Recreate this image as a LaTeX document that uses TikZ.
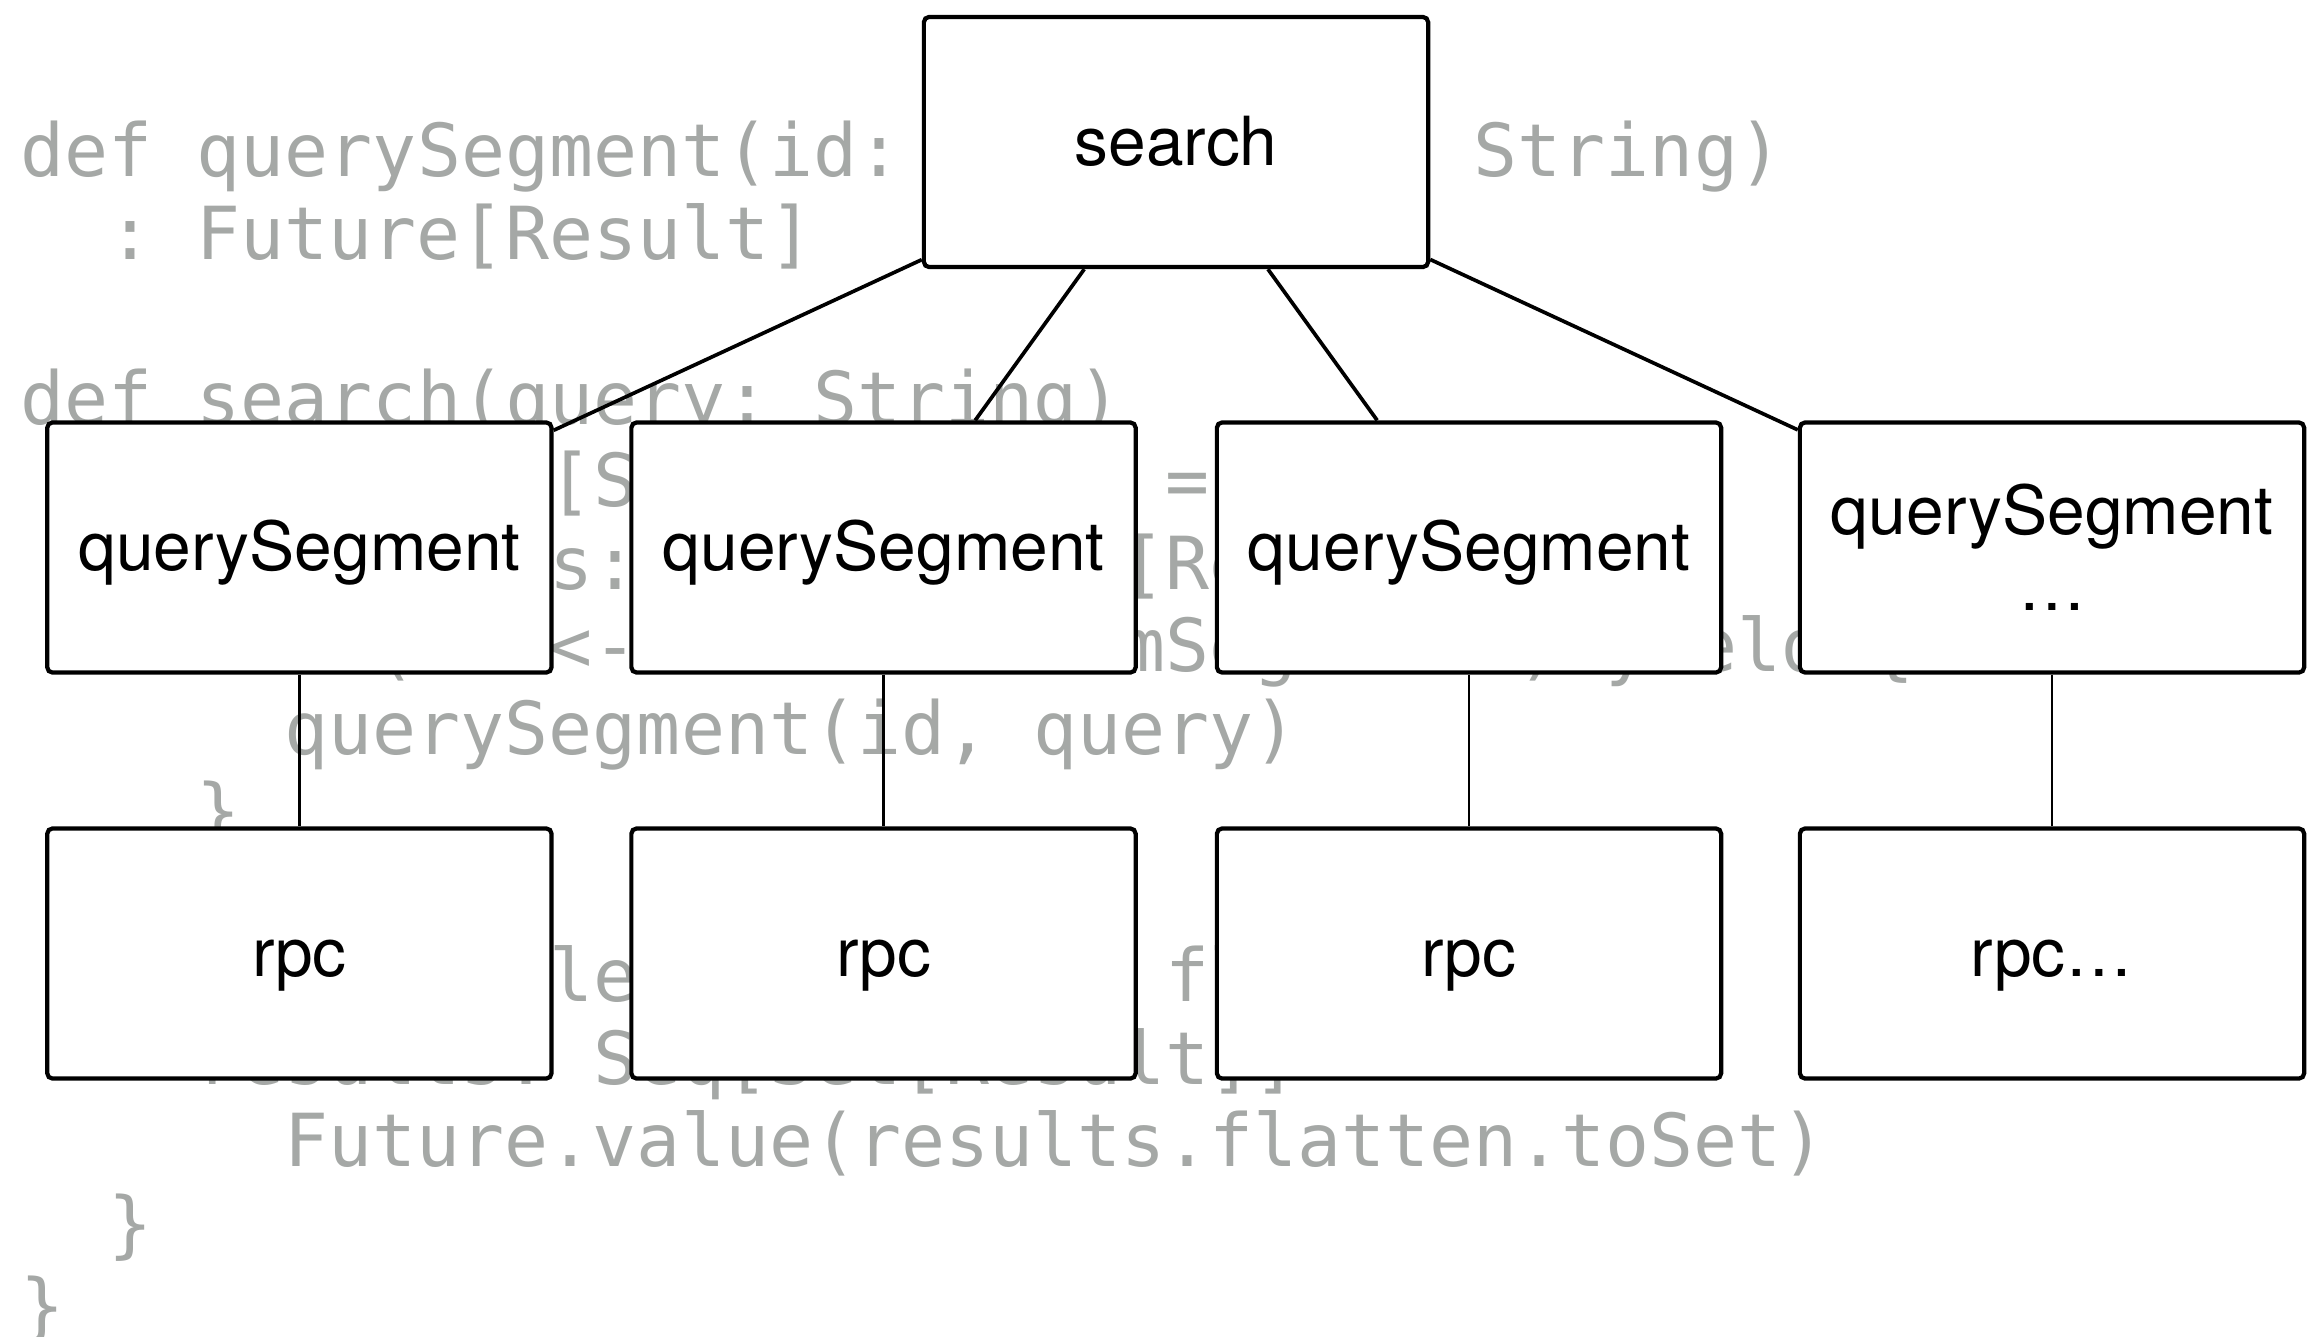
\documentclass[tikz,border=0pt]{standalone}
\usepackage{fontspec}
\setmainfont{TeX Gyre Heros}
\newfontfamily\codefont{DejaVu Sans Mono}
\definecolor{codegray}{HTML}{A5A8A6}
\begin{document}
\begin{tikzpicture}[x=0.01cm,y=-0.01cm,
  codeline/.style={anchor=base west, inner sep=0pt, text=codegray,
    font=\codefont\fontsize{20.8pt}{23pt}\selectfont\frenchspacing},
  callbox/.style={draw=black, line width=1.2pt, fill=white, rounded corners=1.5pt,
    minimum width=5.04cm, minimum height=2.50cm, inner sep=0pt, align=center,
    font=\fontsize{19.25pt}{21.6pt}\selectfont},
  oneline/.style={text height=0.60cm, text depth=0.14cm},
  fanout/.style={line width=1.05pt},
  chainlink/.style={line width=0.75pt}]
\useasboundingbox (0,0) rectangle (2307,1336);

% Scala source set behind the call tree
\node[codeline] (c0)  at (20,176.5)   {def querySegment(id: Int, query: String)};
\node[codeline] (c1)  at (108,259)    {: Future[Result]};
\node[codeline] (c3)  at (20,424)     {def search(query: String)};
\node[codeline] (c4)  at (196,506.5)  {: Future[Set[Result]] = \{};
\node[codeline] (c5)  at (108,589)    {val queries: Seq[Future[Result]] =};
\node[codeline] (c6)  at (196,671.5)  {for (id <- 0 until NumSegments) yield \{};
\node[codeline] (c7)  at (284,754)    {querySegment(id, query)};
\node[codeline] (c8)  at (196,836.5)  {\}};
\node[codeline] (c10) at (108,1001.5) {Future.collect(queries) flatMap \{};
\node[codeline] (c11) at (196,1084)   {results: Seq[Set[Result]] =>};
\node[codeline] (c12) at (284,1166.5) {Future.value(results.flatten.toSet)};
\node[codeline] (c13) at (108,1249)   {\}};
\node[codeline] (c14) at (20,1331.5)  {\}};

% call tree
\node[callbox, oneline] (search) at (1176,142) {search};

\node[callbox, oneline] (qa) at (299.4,547.5) {querySegment};
\node[callbox, oneline] (qb) at (883.5,547.5) {querySegment};
\node[callbox, oneline] (qc) at (1469,547.5)  {querySegment};
\node[callbox]          (qd) at (2052,547.5)  {querySegment\\…};

\node[callbox, oneline] (ra) at (299.4,953.5) {rpc};
\node[callbox, oneline] (rb) at (883.5,953.5) {rpc};
\node[callbox, oneline] (rc) at (1469,953.5)  {rpc};
\node[callbox, oneline] (rd) at (2052,953.5)  {rpc…};

\foreach \q in {qa,qb,qc,qd}
  \draw[fanout] (search) -- (\q);

\draw[chainlink] (qa) -- (ra);
\draw[chainlink] (qb) -- (rb);
\draw[chainlink] (qc) -- (rc);
\draw[chainlink] (qd) -- (rd);
\end{tikzpicture}
\end{document}
